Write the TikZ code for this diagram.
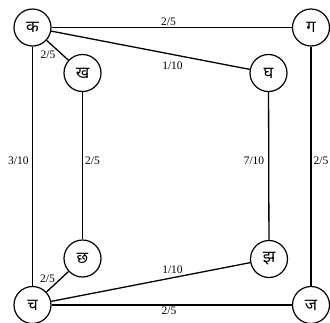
\documentclass[tikz,border=0pt]{standalone}
\usepackage{fontspec}
\setmainfont{Liberation Serif}
\newfontfamily\deva[Script=Devanagari]{Noto Sans}
\begin{document}
\begin{tikzpicture}[x=1pt,y=-1pt,
  vtx/.style={circle,draw,line width=1.2pt,minimum size=37pt,inner sep=0pt,fill=white,font=\deva\fontsize{16.5}{16.5}\selectfont},
  edge/.style={line width=1.3pt},
  wt/.style={font=\fontsize{11.5}{12}\selectfont,inner sep=0pt}]
\useasboundingbox (0,0) rectangle (330,322);
\node[vtx] (ka) at (32.5,27.5) {क};
\node[vtx] (ga) at (311,27.5) {ग};
\node[vtx] (kha) at (82.5,73) {ख};
\node[vtx] (gha) at (268.5,73) {घ};
\node[vtx] (chha) at (82.5,258.5) {छ};
\node[vtx] (jha) at (269,259) {झ};
\node[vtx] (ca) at (32.5,305) {च};
\node[vtx] (ja) at (311,305) {ज};
\draw[edge] (ka) -- (ga);
\draw[edge] (ka) -- (kha);
\draw[edge] (ka) -- (gha);
\draw[edge] (ka) -- (ca);
\draw[edge] (kha) -- (chha);
\draw[edge] (gha) -- (jha);
\draw[edge] (ga) -- (ja);
\draw[edge] (chha) -- (ca);
\draw[edge] (ca) -- (jha);
\draw[edge] (ca) -- (ja);
\node[wt] (w1) at (168.5,21.5) {2/5};
\node[wt] (w2) at (172.5,66) {1/10};
\node[wt] (w3) at (48,55) {2/5};
\node[wt] (w4) at (18.3,161) {3/10};
\node[wt] (w5) at (92.5,161) {2/5};
\node[wt] (w6) at (254,161) {7/10};
\node[wt] (w7) at (321,161) {2/5};
\node[wt] (w8) at (47.5,279) {2/5};
\node[wt] (w9) at (172.5,270) {1/10};
\node[wt] (w10) at (169,311) {2/5};
\end{tikzpicture}
\end{document}
